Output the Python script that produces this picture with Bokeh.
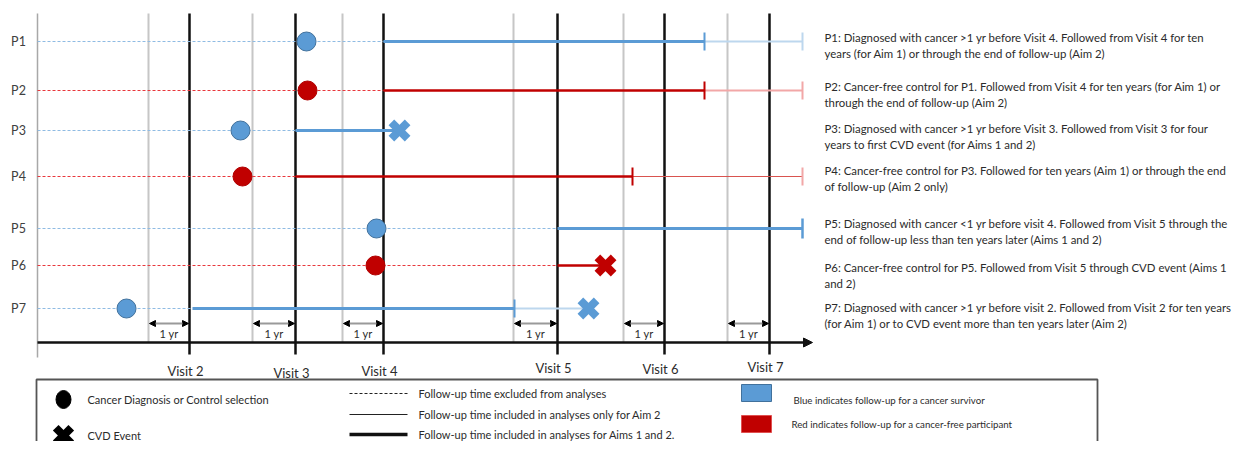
import math
from bokeh.plotting import figure
from bokeh.models import Range1d, Arrow, NormalHead
from bokeh.core.properties import value
from bokeh.embed import file_html
from bokeh.resources import INLINE

# ---------------- data (diagram units) ----------------
visits = ["Visit 2", "Visit 3", "Visit 4", "Visit 5", "Visit 6", "Visit 7"]
visit_x = [189, 295, 383, 557, 664, 769]
year_before_x = [148, 252, 342, 513, 623, 727]
visit_label_dy = [0, 2, 0, -3, -2, -4]

participants = ["P1", "P2", "P3", "P4", "P5", "P6", "P7"]
group = ["survivor", "control", "survivor", "control", "survivor", "control", "survivor"]
diag_x = [306, 307, 240, 242, 376, 375, 126]
start_x = [383, 383, 295, 295, 557, 557, 192]
aim1_end = [704, 704, 399, 632, 802, 605, 514]
aim2_end = [802, 802, None, 802, None, None, 588]
event_x = [None, None, 399, None, None, 605, 588]
row_y = [41, 90, 130, 176, 228, 265, 308]

notes = [
    ("P1: Diagnosed with cancer >1 yr before Visit 4. Followed from Visit 4 for ten",
     "years (for Aim 1) or through the end of follow-up (Aim 2)"),
    ("P2: Cancer-free control for P1. Followed from Visit 4 for ten years (for Aim 1) or",
     "through the end of follow-up (Aim 2)"),
    ("P3: Diagnosed with cancer >1 yr before Visit 3. Followed from Visit 3 for four",
     "years to first CVD event (for Aims 1 and 2)"),
    ("P4: Cancer-free control for P3. Followed for ten years (Aim 1) or through the end",
     "of follow-up (Aim  2 only)"),
    ("P5: Diagnosed with cancer <1 yr before visit 4. Followed from Visit 5 through the",
     "end of follow-up less than ten years later (Aims 1 and 2)"),
    ("P6: Cancer-free control for P5.  Followed from Visit 5 through CVD event  (Aims 1",
     "and 2)"),
    ("P7: Diagnosed with cancer >1 yr before visit 2. Followed from Visit 2 for ten years",
     "(for Aim 1) or to CVD event more than ten years later (Aim 2)"),
]
notes_y = [37, 86, 128, 170, 223, 267, 307]

legend_symbols = ["Cancer Diagnosis or Control selection", "CVD Event"]
legend_lines = ["Follow-up time excluded from analyses",
                "Follow-up time  included in analyses only for Aim 2",
                "Follow-up time  included in analyses for Aims 1 and 2."]
legend_colors = ["Blue indicates follow-up for a cancer survivor",
                 "Red indicates follow-up for a cancer-free participant"]

# ---------------- styles ----------------
FONT = value("Lato")
TXT = "#2b2b2b"
COL = {
    "survivor": dict(main="#5b9bd5", light="#bdd7ee", dash="#8fbbe3", edge="#41719c"),
    "control": dict(main="#c00000", light="#f2a7a7", dash="#e8383d", edge="#b00000"),
}

W, H = 1239, 441
p = figure(width=W, height=H, x_range=Range1d(0, W), y_range=Range1d(H, 0),
           output_backend="svg", toolbar_location=None, x_axis_type=None,
           y_axis_type=None, min_border=0)
p.outline_line_color = None
p.background_fill_color = "white"

TOP, AXIS_Y, LEFT_X = 13, 342, 37

# vertical guide lines
p.segment(x0=year_before_x, y0=TOP, x1=year_before_x, y1=AXIS_Y, line_color="#c6c6c6", line_width=2)
p.segment(x0=[LEFT_X], y0=TOP, x1=[LEFT_X], y1=357, line_color="#a8a8a8", line_width=1.5)
p.segment(x0=visit_x, y0=TOP, x1=visit_x, y1=354, line_color="#111111", line_width=2.5)

# time axis
p.add_layout(Arrow(x_start=LEFT_X, y_start=AXIS_Y, x_end=812, y_end=AXIS_Y,
                   line_color="#111111", line_width=2.5, start=None,
                   end=NormalHead(size=9, fill_color="#111111", line_color="#111111")))

# 1 yr arrows
for g, v in zip(year_before_x, visit_x):
    p.add_layout(Arrow(x_start=g + 1, y_start=323, x_end=v - 1, y_end=323,
                       line_color="#9a9a9a", line_width=2,
                       start=NormalHead(size=6, fill_color="black", line_color="black"),
                       end=NormalHead(size=6, fill_color="black", line_color="black")))
p.text(x=[(g + v) / 2 for g, v in zip(year_before_x, visit_x)], y=[333] * 6, text=["1 yr"] * 6,
       text_font=FONT, text_font_size="11px", text_color=TXT, text_align="center",
       text_baseline="middle")

# visit labels
p.text(x=[v - 4 for v in visit_x], y=[370 + d for d in visit_label_dy], text=visits,
       text_font=FONT, text_font_size="13px", text_color=TXT, text_align="center",
       text_baseline="middle")

# participant rows
for i, name in enumerate(participants):
    c = COL[group[i]]
    y = row_y[i]
    # excluded follow-up
    p.line(x=[LEFT_X, start_x[i]], y=[y, y], line_color=c["dash"], line_width=1.2, line_dash="3 2")
    # Aim 1 and 2 follow-up
    p.line(x=[start_x[i], aim1_end[i]], y=[y, y], line_color=c["main"],
           line_width=3 if group[i] == "survivor" else 2.5)
    # Aim 2 only follow-up
    if aim2_end[i] is not None:
        thin = 1.2 if i == 3 else 2
        p.line(x=[aim1_end[i], aim2_end[i]], y=[y, y], line_color=c["light"] if i != 3 else "#d9534f",
               line_width=thin)
        p.segment(x0=[aim1_end[i]], y0=y - 9, x1=[aim1_end[i]], y1=y + 9, line_color=c["main"], line_width=2)
        if event_x[i] is None:
            p.segment(x0=[aim2_end[i]], y0=y - 9, x1=[aim2_end[i]], y1=y + 9, line_color=c["light"], line_width=2)
    elif event_x[i] is None:
        p.segment(x0=[aim1_end[i]], y0=y - 10, x1=[aim1_end[i]], y1=y + 10, line_color=c["main"], line_width=2.5)
    # diagnosis / selection
    p.scatter(x=[diag_x[i]], y=[y], size=19, fill_color=c["main"], line_color=c["edge"], line_width=1)
    # CVD event
    if event_x[i] is not None:
        for ang in (math.pi / 4, -math.pi / 4):
            p.rect(x=[event_x[i]], y=[y], width=23, height=8, angle=ang,
                   fill_color=c["main"], line_color=None)

p.text(x=[18] * 7, y=row_y, text=participants, text_font=FONT, text_font_size="12.5px",
       text_color="#404040", text_align="center", text_baseline="middle")

# right-hand notes
nx, ny, nt = [], [], []
for (l1, l2), y in zip(notes, notes_y):
    nx += [824, 824]
    ny += [y, y + 16]
    nt += [l1, l2]
p.text(x=nx, y=ny, text=nt, text_font=FONT, text_font_size="11.4px", text_color=TXT,
       text_align="left", text_baseline="middle")

# ---------------- legend box ----------------
p.quad(left=[36], right=[1097], top=[379], bottom=[470], fill_color=None,
       line_color="#555555", line_width=1.8)
p.ellipse(x=[63], y=[399], width=15, height=18, fill_color="black", line_color="black")
for ang in (math.pi / 4, -math.pi / 4):
    p.rect(x=[63], y=[435], width=22, height=8, angle=ang, fill_color="black", line_color=None)
p.text(x=[87, 87], y=[399, 435], text=legend_symbols, text_font=FONT, text_font_size="11px",
       text_color=TXT, text_align="left", text_baseline="middle")

p.line(x=[349, 407], y=[393, 393], line_color="#222222", line_width=1, line_dash="3 2")
p.line(x=[349, 407], y=[414, 414], line_color="#222222", line_width=1)
p.line(x=[349, 407], y=[434, 434], line_color="#111111", line_width=3.5)
p.text(x=[418] * 3, y=[393, 414, 434], text=legend_lines, text_font=FONT, text_font_size="11px",
       text_color=TXT, text_align="left", text_baseline="middle")

p.quad(left=[741], right=[771], top=[384], bottom=[401], fill_color=COL["survivor"]["main"],
       line_color=COL["survivor"]["edge"], line_width=1)
p.quad(left=[741], right=[771], top=[415], bottom=[432], fill_color=COL["control"]["main"],
       line_color="#e05050", line_width=1)
p.text(x=[793, 791], y=[399, 423], text=legend_colors, text_font=FONT, text_font_size="9.7px",
       text_color=TXT, text_align="left", text_baseline="middle")

open("out.html", "w").write(file_html(p, INLINE))
